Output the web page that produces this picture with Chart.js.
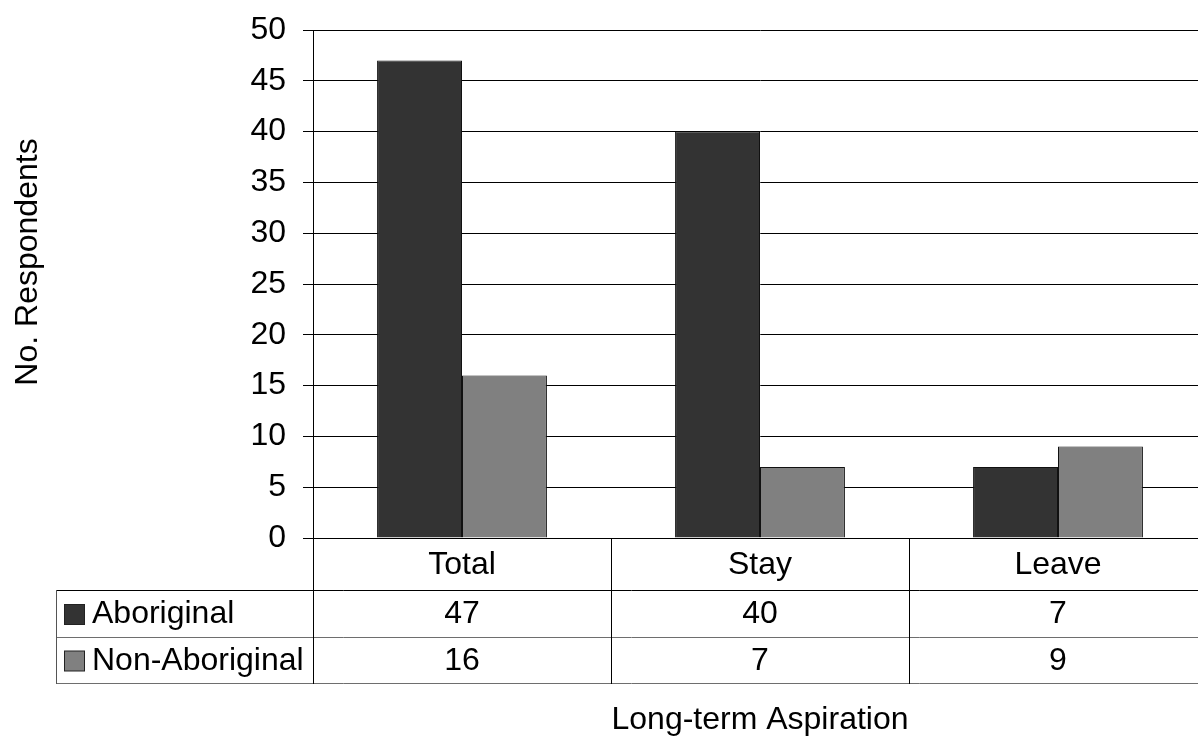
<!DOCTYPE html>
<html>
<head>
<meta charset="utf-8">
<script src="https://cdn.jsdelivr.net/npm/chart.js@4/dist/chart.umd.min.js"></script>
<style>
  html, body { margin: 0; padding: 0; background: #fff; overflow: hidden; }
  #wrap { width: 1210px; height: 736px; }
</style>
</head>
<body>
<div id="wrap"><canvas id="c" width="1210" height="736"></canvas></div>
<script>
// Respondents by long-term aspiration
const categories = ['Total', 'Stay', 'Leave'];
const seriesNames = ['Aboriginal', 'Non-Aboriginal'];
const aboriginal = [47, 40, 7];
const nonAboriginal = [16, 7, 9];
const yMin = 0, yMax = 50, yStep = 5;
const xTitle = 'Long-term Aspiration';
const yTitle = 'No. Respondents';

const FONT = '"Liberation Sans", Arial, Helvetica, sans-serif';
const SIZE = 32;
const colors = ['#333333', '#808080'];

// Data table under the plot: category row plus one row per series
const dataTable = {
  id: 'dataTable',
  afterDraw(chart) {
    const { ctx, chartArea: a, scales: { x } } = chart;
    const n = chart.data.labels.length;
    const step = x.getPixelForValue(1) - x.getPixelForValue(0);
    const rowY = [a.bottom, 590, 637, 683];
    const tableLeft = 56;

    ctx.save();
    ctx.lineWidth = 1;

    const hline = (y, x0, x1, c) => {
      ctx.strokeStyle = c;
      ctx.beginPath(); ctx.moveTo(x0, Math.round(y) + 0.5); ctx.lineTo(x1, Math.round(y) + 0.5); ctx.stroke();
    };
    const vline = (xx, y0, y1, c) => {
      ctx.strokeStyle = c;
      ctx.beginPath(); ctx.moveTo(Math.round(xx) + 0.5, y0); ctx.lineTo(Math.round(xx) + 0.5, y1); ctx.stroke();
    };

    hline(rowY[1], tableLeft, a.right, '#000');
    hline(rowY[2], tableLeft, a.right, '#6e6e6e');
    hline(rowY[3], tableLeft, a.right, '#6e6e6e');
    vline(tableLeft, rowY[1], rowY[3] + 1, '#555');
    // value axis line continues through the table
    vline(a.left, a.bottom, rowY[3] + 1, '#000');
    for (let i = 1; i < n; i++) {
      const bx = x.getPixelForValue(i) - step / 2;
      vline(bx, a.bottom, rowY[3] + 1, '#000');
    }
    vline(a.right, a.bottom, rowY[3] + 1, '#000');

    ctx.fillStyle = '#000';
    ctx.font = SIZE + 'px ' + FONT;
    ctx.textAlign = 'center';
    ctx.textBaseline = 'middle';
    // category labels
    chart.data.labels.forEach((lab, i) => {
      ctx.fillText(lab, x.getPixelForValue(i), (rowY[0] + rowY[1]) / 2 + 1);
    });
    // series rows
    chart.data.datasets.forEach((ds, d) => {
      const cy = (rowY[d + 1] + rowY[d + 2]) / 2 + 1;
      ctx.fillStyle = ds.backgroundColor;
      ctx.fillRect(64.5, cy - 10, 20, 20);
      ctx.strokeStyle = '#222';
      ctx.strokeRect(64.5, cy - 10, 20, 20);
      ctx.fillStyle = '#000';
      ctx.textAlign = 'left';
      ctx.fillText(ds.label, 92, cy);
      ctx.textAlign = 'center';
      ds.data.forEach((v, i) => ctx.fillText(String(v), x.getPixelForValue(i), cy));
    });

    // axis titles
    ctx.textAlign = 'center';
    ctx.textBaseline = 'alphabetic';
    ctx.fillText(xTitle, (a.left + a.right) / 2, 729);
    ctx.save();
    ctx.translate(37, 262);
    ctx.rotate(-Math.PI / 2);
    ctx.fillText(yTitle, 0, 0);
    ctx.restore();

    ctx.restore();
  }
};

new Chart(document.getElementById('c'), {
  type: 'bar',
  data: {
    labels: categories,
    datasets: [
      { label: seriesNames[0], data: aboriginal, backgroundColor: colors[0], borderColor: '#111', borderWidth: 1 },
      { label: seriesNames[1], data: nonAboriginal, backgroundColor: colors[1], borderColor: '#111', borderWidth: 1 }
    ]
  },
  options: {
    responsive: false,
    animation: false,
    events: [],
    layout: { padding: { left: 0, top: 30, right: 3, bottom: 0 } },
    plugins: { legend: { display: false }, tooltip: { enabled: false } },
    datasets: { bar: { categoryPercentage: 0.57, barPercentage: 1.0 } },
    scales: {
      x: {
        grid: { display: false },
        border: { color: '#000', width: 1 },
        ticks: { display: false },
        afterFit(scale) { scale.height = 198; }
      },
      y: {
        min: yMin, max: yMax,
        grid: { color: '#000', lineWidth: 1, tickLength: 10, tickColor: '#000' },
        border: { color: '#000', width: 1 },
        ticks: {
          stepSize: yStep, color: '#000', padding: 17,
          font: { family: FONT, size: SIZE }
        },
        afterFit(scale) {
          scale.width = 313;
          scale.paddingTop = 0;
          scale.paddingBottom = 0;
        }
      }
    }
  },
  plugins: [dataTable]
});
</script>
</body>
</html>
